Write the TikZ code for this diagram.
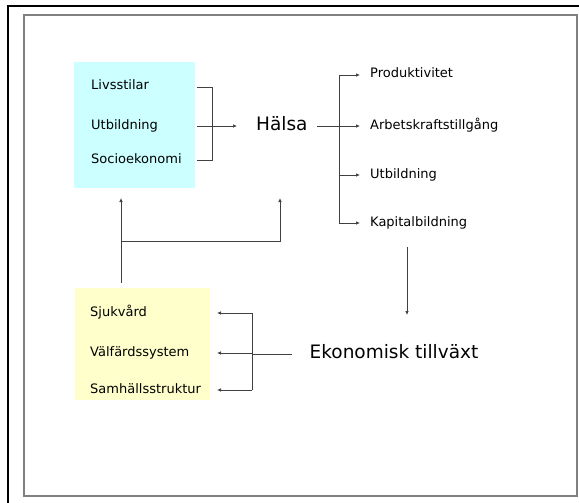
\documentclass[tikz,border=0pt]{standalone}
\usepackage{fontspec}
\setmainfont{DejaVu Sans}
\usetikzlibrary{arrows.meta,positioning}

\definecolor{ljuscyan}{HTML}{CCFFFF}
\definecolor{ljusgul}{HTML}{FFFFCC}

\tikzset{
  faktor/.style={anchor=west, inner sep=0pt, text height=9pt, text depth=3pt,
    font=\fontsize{13}{15}\selectfont},
  rubrik/.style={inner sep=0pt, text height=13pt, text depth=4pt,
    font=\fontsize{18.5}{22}\selectfont},
  ruta/.style={anchor=north west, inner sep=0pt, draw=none},
  linje/.style={line width=0.7pt, draw=black!75},
  pil/.style={linje, -{Latex[length=4pt,width=3.5pt]}},
}

\begin{document}
\begin{tikzpicture}[x=1pt,y=-1pt]
      \useasboundingbox (0,0) rectangle (579,503);

      % Ramar
      \draw[line width=2.5pt] (8,503) -- (8,6) -- (579,6);
      \draw[line width=1.4pt,gray] (24,15) rectangle (577,496);

      % Rutor
      \node[ruta, fill=ljuscyan, minimum width=121pt, minimum height=126pt] (halsoruta) at (74,62) {};
      \node[ruta, fill=ljusgul, minimum width=135pt, minimum height=112pt] (vardruta) at (75,288) {};

      % Faktorer bakom hälsan
      \node[faktor] (livs) at (91,87) {Livsstilar};
      \node[faktor] (utbA) at (91,126) {Utbildning};
      \node[faktor] (socio) at (91,160) {Socioekonomi};

      % Hälsa och dess följder
      \node[rubrik, anchor=west] (halsa) at (256,126) {Hälsa};
      \node[faktor] (prod) at (370,75) {Produktivitet};
      \node[faktor] (arb) at (370,126) {Arbetskraftstillgång};
      \node[faktor] (utbB) at (370,175) {Utbildning};
      \node[faktor] (kap) at (370,223) {Kapitalbildning};

      % Tillväxt och välfärd
      \node[rubrik] (ekon) at (394,354) {Ekonomisk tillväxt};
      \node[faktor] (sjuk) at (90,313) {Sjukvård};
      \node[faktor] (valf) at (90,353) {Välfärdssystem};
      \node[faktor] (samh) at (90,390) {Samhällsstruktur};

      % Klammer in mot Hälsa
      \coordinate (klamA) at (212,126);
      \draw[linje] (197,0 |- livs) -- (klamA |- livs) -- (klamA |- socio) -- (197,0 |- socio);
      \draw[pil] (197,0 |- utbA) -- ([xshift=-19pt]halsa.west);

      % Gren ut från Hälsa
      \coordinate (klamB) at (339,126);
      \draw[linje] (317,0 |- halsa) -- (klamB);
      \draw[linje] (klamB |- prod) -- (klamB |- kap);
      \foreach \mal in {prod,arb,utbB,kap}
        \draw[pil] (klamB |- \mal) -- ([xshift=-10pt]\mal.west);

      % Ned mot tillväxten
      \coordinate (nedA) at (407,247);
      \coordinate (nedB) at (407,315);
      \draw[pil] (nedA) -- (nedB);

      % Klammer tillbaka till välfärden
      \coordinate (klamC) at (252,354);
      \draw[linje] (292,0 |- ekon) -- (klamC);
      \draw[linje] (klamC |- sjuk) -- (klamC |- samh);
      \foreach \mal in {sjuk,valf,samh}
        \draw[pil] (klamC |- \mal) -- (217,0 |- \mal);

      % Återkoppling
      \coordinate (uppA) at (121,198);
      \coordinate (uppB) at (280,198);
      \draw[pil] ([yshift=5pt]uppA |- vardruta.north) -- (uppA);
      \draw[pil] (uppA |- 0,241) -- (uppB |- 0,241) -- (uppB);
    \end{tikzpicture}
\end{document}
